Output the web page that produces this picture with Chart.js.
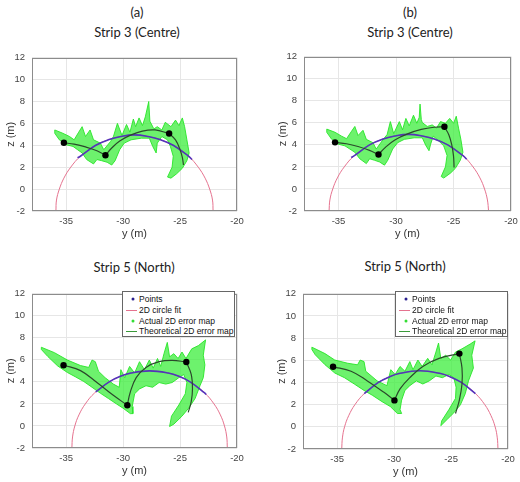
<!DOCTYPE html>
<html>
<head>
<meta charset="utf-8">
<script src="https://cdn.jsdelivr.net/npm/chart.js@4.4.1/dist/chart.umd.min.js"></script>
<style>
  body { margin: 0; background: #fff; width: 520px; height: 482px; position: relative; overflow: hidden; font-family: "Liberation Sans", Arial, sans-serif; }
  canvas { position: absolute; }
  .ttl { position: absolute; font-family: Lato, "Open Sans", sans-serif; font-size: 13px; color: #222; transform: translate(-50%, -50%); white-space: nowrap; }
  .leg { position: absolute; border: 1px solid #666; background: #fff; width: 111px; height: 44px; font-size: 8.5px; color: #111; }
  .leg .row { position: absolute; left: 16px; white-space: nowrap; transform: translateY(-50%); }
  .leg .dot { position: absolute; width: 3px; height: 3px; border-radius: 50%; transform: translate(-50%, -50%); }
  .leg .ln { position: absolute; width: 11px; height: 0; border-top: 1px solid; }
</style>
</head>
<body>

<canvas id="chartA"></canvas>
<canvas id="chartB"></canvas>
<canvas id="chartC"></canvas>
<canvas id="chartD"></canvas>

<script>
// =========================
// DATA (y, z) in metres
// =========================

const xTicks = [-35, -30, -25, -20];
const zTicks = [-2, 0, 2, 4, 6, 8, 10, 12];

const legendLabels = ["Points", "2D circle fit", "Actual 2D error map", "Theoretical 2D error map"];

// strip 3 (a)
const pointsA = [[-35.2, 4.23], [-31.55, 3.09], [-25.96, 5.08]];
const theoryA = [
    [[-35.2, 4.23], [-34.3, 4.1], [-33.3, 3.85], [-32.3, 3.5], [-31.55, 3.09]],
    [[-31.55, 3.09], [-31.0, 3.75], [-30.3, 4.4], [-29.3, 4.95], [-28.3, 5.3], [-27.2, 5.4], [-25.96, 5.08]],
    [[-25.96, 5.08], [-25.4, 4.5], [-25.0, 3.6], [-24.8, 2.9], [-24.7, 2.2]]
];
const circleA = [[-35.9, -2], [-35.85, -1], [-35.6, 0], [-35.2, 1], [-34.6, 2], [-33.75, 3], [-32.4, 4], [-31.3, 4.5], [-30.2, 4.8], [-29, 4.95],
    [-27.8, 4.8], [-26.7, 4.5], [-25.6, 4], [-24.25, 3], [-23.4, 2], [-22.8, 1], [-22.4, 0], [-22.15, -1], [-22.1, -2]];
const arcA = [[-34.0, 2.85], [-33.75, 3], [-32.4, 4], [-31.3, 4.5], [-30.2, 4.8], [-29, 4.95], [-27.8, 4.8], [-26.7, 4.5], [-25.6, 4], [-24.25, 3], [-23.95, 2.7]];
const cloudA = [
    [-36.0, 5.4], [-35.3, 5.1], [-34.7, 4.8], [-34.3, 4.5], [-33.9, 5.2], [-33.6, 5.7], [-33.3, 4.8], [-32.9, 5.4], [-32.6, 4.5], [-32.0, 4.2],
    [-31.7, 3.6], [-31.1, 4.35], [-30.85, 4.8], [-30.5, 6.0], [-30.1, 4.9], [-29.7, 5.9], [-29.4, 5.2], [-29.1, 6.4], [-28.9, 5.7], [-28.6, 6.5],
    [-28.3, 5.8], [-28.05, 6.6], [-27.75, 8.0], [-27.65, 6.2], [-27.3, 5.5], [-27.0, 5.7], [-26.6, 5.4], [-26.3, 6.1], [-25.8, 5.7], [-25.4, 6.3],
    [-25.1, 5.8], [-24.8, 6.5], [-24.6, 5.7], [-24.4, 4.5], [-24.2, 3.3], [-24.4, 2.6], [-24.8, 1.9], [-25.3, 1.4], [-25.8, 1.0], [-26.1, 1.1],
    [-25.7, 2.0], [-25.6, 3.0], [-25.85, 3.9], [-26.1, 4.5], [-26.6, 4.8], [-27.0, 4.2], [-27.1, 3.3], [-27.4, 3.9], [-27.7, 4.65], [-28.4, 4.65],
    [-29.3, 4.5], [-29.9, 4.2], [-30.3, 3.6], [-30.7, 2.6], [-31.0, 2.2], [-31.4, 2.45], [-31.9, 2.6], [-32.3, 2.7], [-32.6, 2.3], [-33.2, 2.7],
    [-33.6, 3.3], [-34.0, 3.6], [-34.4, 3.9], [-35.0, 4.05], [-35.6, 4.5], [-36.0, 5.1], [-36.0, 5.4]
];

// strip 3 (b)
const pointsB = [[-35.3, 4.23], [-31.52, 3.12], [-25.79, 5.64]];
const theoryB = [
    [[-35.3, 4.23], [-34.3, 4.1], [-33.3, 3.85], [-32.3, 3.5], [-31.52, 3.12]],
    [[-31.52, 3.12], [-30.9, 3.8], [-30.1, 4.45], [-29.0, 5.0], [-27.8, 5.4], [-26.7, 5.6], [-25.79, 5.64]],
    [[-25.79, 5.64], [-25.4, 4.9], [-25.15, 4.0], [-25.0, 3.0], [-24.95, 1.95]]
];
const circleB = [[-35.82, -2], [-35.75, -1], [-35.5, 0], [-35.1, 1], [-34.5, 2], [-33.65, 3], [-32.3, 4], [-31.2, 4.5], [-30.1, 4.8], [-28.9, 4.95],
    [-27.7, 4.8], [-26.6, 4.5], [-25.5, 4], [-24.15, 3], [-23.3, 2], [-22.7, 1], [-22.3, 0], [-22.05, -1], [-21.95, -2]];
const arcB = [[-33.9, 2.85], [-33.65, 3], [-32.3, 4], [-31.2, 4.5], [-30.1, 4.8], [-28.9, 4.95], [-27.7, 4.8], [-26.6, 4.5], [-25.5, 4], [-24.15, 3], [-23.85, 2.7]];
const cloudB = [
    [-36.02, 5.43], [-35.3, 5.14], [-34.73, 4.79], [-34.3, 4.56], [-33.87, 5.23], [-33.58, 5.67], [-33.3, 4.85], [-32.87, 5.32], [-32.58, 4.5], [-32.01, 4.2],
    [-31.72, 3.62], [-31.15, 4.44], [-30.77, 4.94], [-30.49, 6.11], [-30.2, 5.02], [-29.71, 6.11], [-29.43, 5.37], [-29.14, 6.4], [-28.85, 5.73], [-28.48, 6.69],
    [-28.19, 5.96], [-27.98, 6.5], [-27.91, 7.7], [-27.8, 6.3], [-27.71, 6.02], [-27.28, 5.67], [-26.85, 5.81], [-26.48, 5.52], [-26.13, 6.11], [-25.7, 5.96],
    [-25.33, 6.4], [-24.99, 5.96], [-24.76, 6.6], [-24.56, 5.52], [-24.36, 4.5], [-24.18, 3.33], [-24.41, 2.6], [-24.84, 1.87], [-25.27, 1.43], [-25.85, 0.99],
    [-26.07, 1.13], [-25.7, 2.01], [-25.56, 3.04], [-25.85, 3.91], [-26.42, 4.5], [-26.76, 4.79], [-26.99, 4.06], [-27.13, 3.47], [-27.42, 3.97], [-27.71, 4.64],
    [-28.42, 4.64], [-29.28, 4.5], [-29.86, 4.2], [-30.29, 3.62], [-30.72, 2.6], [-31.0, 2.16], [-31.43, 2.45], [-31.86, 2.6], [-32.29, 2.74], [-32.58, 2.3],
    [-33.15, 2.74], [-33.58, 3.33], [-34.01, 3.62], [-34.44, 3.91], [-35.01, 4.06], [-35.59, 4.5], [-36.02, 5.14], [-36.02, 5.43]
];

// strip 5 (c)
const pointsC = [[-35.23, 5.51], [-29.63, 1.88], [-24.45, 5.8]];
const theoryC = [
    [[-35.23, 5.51], [-33.74, 5.02], [-32.3, 3.94], [-30.86, 2.78], [-29.63, 1.88]],
    [[-29.63, 1.88], [-29.37, 3.07], [-28.85, 4.38], [-27.99, 5.31], [-26.84, 5.83], [-25.69, 5.95], [-24.45, 5.8]],
    [[-24.45, 5.8], [-24.02, 4.67], [-23.91, 3.36], [-24.02, 2.2], [-24.28, 1.24]]
];
const circleC = [[-34.5, -2], [-34.44, -1], [-34.24, 0], [-33.88, 1], [-33.32, 2], [-32.5, 3], [-31.22, 4], [-30.24, 4.5], [-29.3, 4.8], [-27.67, 5.0],
    [-26.04, 4.8], [-25.1, 4.5], [-24.12, 4], [-22.84, 3], [-22.02, 2], [-21.46, 1], [-21.1, 0], [-20.9, -1], [-20.85, -2]];
const arcC = [[-32.4, 3.1], [-31.22, 4], [-30.24, 4.5], [-29.3, 4.8], [-27.67, 5.0], [-26.04, 4.8], [-25.1, 4.5], [-24.12, 4], [-22.84, 3], [-22.7, 2.85]];
const cloudC = [
    [-37.18, 7.14], [-36.03, 6.65], [-34.89, 5.98], [-33.74, 5.48], [-33.02, 5.31], [-32.73, 5.98], [-32.44, 5.83], [-32.16, 4.96], [-31.58, 4.38], [-30.86, 3.8],
    [-30.34, 3.51], [-30.2, 5.11], [-29.86, 4.38], [-29.43, 5.4], [-28.99, 4.81], [-28.56, 5.83], [-28.13, 5.11], [-27.7, 5.98], [-27.36, 5.25], [-26.98, 6.12],
    [-26.7, 5.4], [-26.41, 6.56], [-26.12, 7.58], [-25.92, 6.27], [-25.55, 6.56], [-25.17, 6.12], [-24.83, 6.71], [-24.48, 6.12], [-23.97, 7.0], [-23.39, 7.29],
    [-22.76, 7.81], [-22.96, 6.42], [-22.82, 5.54], [-22.96, 4.38], [-23.25, 3.65], [-23.68, 2.49], [-24.25, 1.61], [-24.83, 0.89], [-25.55, 0.16], [-25.92, -0.05],
    [-25.75, 0.89], [-25.11, 1.9], [-24.54, 2.92], [-24.4, 3.94], [-24.68, 4.67], [-25.11, 4.38], [-25.69, 3.94], [-26.26, 3.8], [-26.84, 3.94], [-27.41, 3.51],
    [-27.99, 3.65], [-28.56, 3.36], [-28.99, 2.92], [-29.2, 1.76], [-29.14, 1.12], [-29.37, 1.12], [-30.0, 1.61], [-30.57, 1.99], [-31.29, 2.49], [-32.01, 2.98],
    [-32.73, 3.51], [-33.45, 4.03], [-34.17, 4.45], [-34.89, 4.85], [-35.75, 5.45], [-36.61, 6.3], [-37.18, 6.94], [-37.18, 7.14]
];

// strip 5 (d)
const pointsD = [[-35.36, 5.41], [-29.97, 2.38], [-24.27, 6.6]];
const theoryD = [
    [[-35.36, 5.41], [-33.78, 5.01], [-32.35, 4.14], [-30.92, 3.13], [-29.97, 2.38]],
    [[-29.97, 2.38], [-29.48, 3.42], [-28.62, 4.43], [-27.48, 5.44], [-26.05, 6.17], [-24.27, 6.6]],
    [[-24.27, 6.6], [-24.04, 5.3], [-24.04, 3.86], [-24.27, 2.41], [-24.61, 1.2]]
];
const circleD = [[-34.6, -2], [-34.54, -1], [-34.35, 0], [-33.99, 1], [-33.44, 2], [-32.62, 3], [-31.38, 4], [-30.42, 4.5], [-29.57, 4.8], [-27.74, 5.05],
    [-25.91, 4.8], [-25.06, 4.5], [-24.1, 4], [-22.86, 3], [-22.04, 2], [-21.49, 1], [-21.13, 0], [-20.94, -1], [-20.88, -2]];
const arcD = [[-32.62, 3], [-31.38, 4], [-30.42, 4.5], [-29.57, 4.8], [-27.74, 5.05], [-25.91, 4.8], [-25.06, 4.5], [-24.1, 4], [-22.86, 3]];
const cloudD = [
    [-37.22, 7.18], [-36.07, 6.6], [-35.21, 6.02], [-34.07, 5.73], [-33.21, 5.59], [-32.98, 6.02], [-32.64, 5.88], [-32.49, 5.01], [-31.49, 4.14], [-30.63, 3.71],
    [-30.29, 5.15], [-29.91, 4.72], [-29.48, 5.44], [-29.05, 5.01], [-28.62, 5.88], [-28.34, 5.15], [-27.91, 6.02], [-27.54, 5.44], [-27.05, 6.17], [-26.68, 5.59],
    [-26.33, 6.74], [-26.1, 7.55], [-25.9, 6.17], [-25.47, 6.45], [-25.04, 6.02], [-24.61, 6.74], [-24.04, 7.03], [-23.32, 7.46], [-22.89, 7.75], [-23.18, 6.45],
    [-23.04, 5.3], [-23.47, 4.14], [-23.75, 2.99], [-24.18, 1.98], [-24.76, 1.26], [-25.33, 0.68], [-25.9, 0.1], [-25.82, 0.54], [-25.19, 1.55], [-24.61, 2.56],
    [-24.56, 3.57], [-24.76, 4.43], [-25.19, 4.72], [-25.76, 4.43], [-26.33, 4.58], [-26.91, 4.14], [-27.48, 3.86], [-28.05, 4.14], [-28.62, 3.71], [-29.05, 3.28],
    [-29.34, 2.41], [-29.48, 1.55], [-29.34, 1.2], [-29.71, 1.2], [-30.34, 1.83], [-31.06, 2.27], [-31.92, 2.85], [-32.64, 3.28], [-33.5, 3.86], [-34.36, 4.43],
    [-35.21, 4.85], [-36.07, 5.6], [-36.93, 6.5], [-37.22, 6.97], [-37.22, 7.18]
];

// =========================
// COLOURS
// =========================

const C_POINT = "#000000";
const C_THEORY = "#2b4a2b";
const C_ARC = "#5533bb";
const C_CIRCLE = "#e5738f";
const C_CLOUD_FILL = "rgba(60, 238, 60, 0.75)";
const C_CLOUD_EDGE = "rgba(40, 230, 40, 0.9)";

// =========================
// HELPERS
// =========================

function xy(list) {
    return list.map(p => ({ x: p[0], y: p[1] }));
}

const boxPlugin = {
    id: "box",
    afterDatasetsDraw(chart) {
        const a = chart.chartArea;
        const ctx = chart.ctx;
        ctx.save();
        ctx.strokeStyle = "#8c8c8c";
        ctx.lineWidth = 1;
        ctx.strokeRect(Math.round(a.left) + 0.5, Math.round(a.top) + 0.5,
            Math.round(a.right - a.left) - 1, Math.round(a.bottom - a.top) - 1);
        ctx.restore();
    }
};

function makePlot(id, area, points, theory, arc, cloud, circle) {

    const cv = document.getElementById(id);
    const left = area.l - 32;
    const top = area.t - 7;

    cv.width = area.r - left + 12;
    cv.height = area.b - top + 30;
    cv.style.left = left + "px";
    cv.style.top = top + "px";

    const datasets = [];

    datasets.push({
        label: legendLabels[0] + " (markers)",
        data: xy(points),
        showLine: false,
        pointRadius: 3.2,
        pointBackgroundColor: C_POINT,
        pointBorderWidth: 0
    });

    theory.forEach(seg => {
        datasets.push({
            label: legendLabels[3],
            data: xy(seg),
            showLine: true,
            borderColor: C_THEORY,
            borderWidth: 1.2,
            pointRadius: 0,
            tension: 0.4
        });
    });

    datasets.push({
        label: legendLabels[0],
        data: xy(arc),
        showLine: true,
        borderColor: C_ARC,
        borderWidth: 1.6,
        pointRadius: 0,
        tension: 0.4
    });

    datasets.push({
        label: legendLabels[2],
        data: xy(cloud),
        showLine: true,
        borderColor: C_CLOUD_EDGE,
        backgroundColor: C_CLOUD_FILL,
        borderWidth: 1,
        fill: "shape",
        pointRadius: 0,
        tension: 0
    });

    datasets.push({
        label: legendLabels[1],
        data: xy(circle),
        showLine: true,
        borderColor: C_CIRCLE,
        borderWidth: 1,
        pointRadius: 0,
        tension: 0.4
    });

    new Chart(cv, {
        type: "scatter",
        data: { datasets: datasets },
        plugins: [boxPlugin],
        options: {
            responsive: false,
            animation: false,
            layout: { padding: { top: 7, right: 12, left: 0, bottom: 0 } },
            plugins: {
                legend: { display: false },
                tooltip: { enabled: false }
            },
            scales: {
                x: {
                    type: "linear",
                    min: -38,
                    max: -20,
                    afterBuildTicks: s => { s.ticks = xTicks.map(v => ({ value: v })); },
                    afterFit: s => { s.height = 30; },
                    grid: { color: "#e6e6e6", drawTicks: false },
                    border: { display: false },
                    ticks: { color: "#444", padding: 5, font: { size: 9.5, family: "'Liberation Sans', Arial" } },
                    title: {
                        display: true, text: "y (m)", color: "#333",
                        font: { size: 11, family: "'Liberation Sans', Arial" },
                        padding: { top: 0, bottom: 0 }
                    }
                },
                y: {
                    type: "linear",
                    min: -2,
                    max: 12,
                    afterBuildTicks: s => { s.ticks = zTicks.map(v => ({ value: v })); },
                    afterFit: s => { s.width = 32; },
                    grid: { color: "#e6e6e6", drawTicks: false },
                    border: { display: false },
                    ticks: { color: "#444", padding: 7, font: { size: 9.5, family: "'Liberation Sans', Arial" } },
                    title: {
                        display: true, text: "z (m)", color: "#333",
                        font: { size: 11, family: "'Liberation Sans', Arial" },
                        padding: { top: 4, bottom: 0 }
                    }
                }
            }
        }
    });
}

// =========================
// TITLES AND LEGENDS
// =========================

function addTitle(text, x, y) {
    const d = document.createElement("div");
    d.className = "ttl";
    d.textContent = text;
    d.style.left = x + "px";
    d.style.top = y + "px";
    document.body.appendChild(d);
}

function addLegend(x, y) {
    const box = document.createElement("div");
    box.className = "leg";
    box.style.left = x + "px";
    box.style.top = y + "px";

    const rowsY = [6.5, 17.5, 28.5, 39];
    const kinds = [["dot", "#2a1f8f"], ["ln", C_CIRCLE], ["dot", "#33dd33"], ["ln", "#3a9a3a"]];

    legendLabels.forEach((label, i) => {
        const s = document.createElement("div");
        s.className = kinds[i][0];
        if (kinds[i][0] === "dot") {
            s.style.left = "10px";
            s.style.top = rowsY[i] + "px";
            s.style.background = kinds[i][1];
        } else {
            s.style.left = "3px";
            s.style.top = rowsY[i] + "px";
            s.style.borderColor = kinds[i][1];
        }
        box.appendChild(s);

        const t = document.createElement("div");
        t.className = "row";
        t.style.top = rowsY[i] + "px";
        t.textContent = label;
        box.appendChild(t);
    });

    document.body.appendChild(box);
}

makePlot("chartA", { l: 32, r: 237, t: 52, b: 211 }, pointsA, theoryA, arcA, cloudA, circleA);
makePlot("chartB", { l: 304, r: 511, t: 51, b: 211 }, pointsB, theoryB, arcB, cloudB, circleB);
makePlot("chartC", { l: 32, r: 237, t: 288, b: 448 }, pointsC, theoryC, arcC, cloudC, circleC);
makePlot("chartD", { l: 303, r: 508, t: 288, b: 449 }, pointsD, theoryD, arcD, cloudD, circleD);

addTitle("(a)", 137, 12);
addTitle("Strip 3 (Centre)", 137, 32);
addTitle("(b)", 410, 12);
addTitle("Strip 3 (Centre)", 410, 32);
addTitle("Strip 5 (North)", 134, 267);
addTitle("Strip 5 (North)", 405, 266);

addLegend(122, 291);
addLegend(395, 291);
</script>
</body>
</html>
